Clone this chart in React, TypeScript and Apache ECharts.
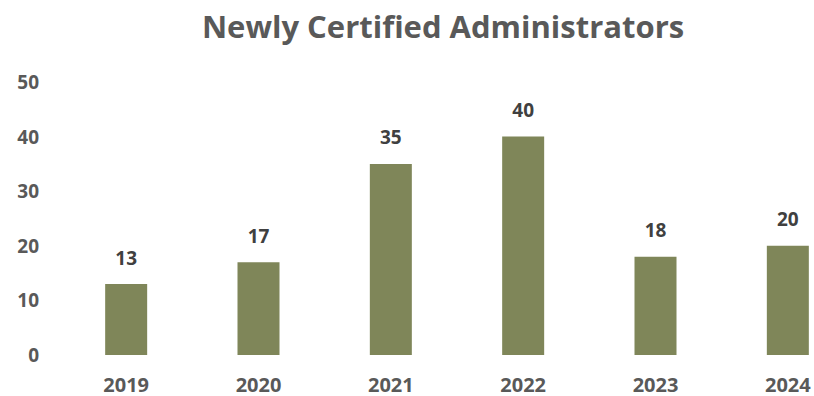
import React, { useEffect, useRef } from "react";
import * as echarts from "echarts";

const title = "Newly Certified Administrators";
const years = ["2019", "2020", "2021", "2022", "2023", "2024"];
const certified = [13, 17, 35, 40, 18, 20];
const yTicks = { min: 0, max: 50, interval: 10 };

export default function App() {
  const ref = useRef<HTMLDivElement>(null);
  useEffect(() => {
    if (!ref.current) return;
    const chart = echarts.init(ref.current, null, { renderer: "svg" });
    chart.setOption({
      animation: false,
      backgroundColor: "#ffffff",
      title: {
        text: title,
        left: 438,
        textAlign: "center",
        top: 5,
        textStyle: {
          fontFamily: "Open Sans",
          fontWeight: "bold",
          fontSize: 31,
          color: "#595959",
        },
      },
      grid: { left: 60, width: 794, top: 82, bottom: 41, containLabel: false },
      xAxis: {
        type: "category",
        data: years,
        axisLine: { show: false },
        axisTick: { show: false },
        axisLabel: {
          margin: 20,
          fontFamily: "Open Sans",
          fontWeight: "bold",
          fontSize: 20,
          lineHeight: 18,
          color: "#595959",
        },
      },
      yAxis: {
        type: "value",
        min: yTicks.min,
        max: yTicks.max,
        interval: yTicks.interval,
        splitLine: { show: false },
        axisLine: { show: false },
        axisTick: { show: false },
        axisLabel: {
          margin: 21,
          fontFamily: "Open Sans",
          fontWeight: "bold",
          fontSize: 19,
          color: "#595959",
        },
      },
      series: [
        {
          type: "bar",
          data: certified,
          barWidth: 42,
          itemStyle: { color: "#7f8659" },
          label: {
            show: true,
            position: "top",
            distance: 17,
            fontFamily: "Open Sans",
            fontWeight: "bold",
            fontSize: 19,
            color: "#404040",
          },
        },
      ],
    });
    return () => chart.dispose();
  }, []);
  return (
    <div
      style={{
        position: "absolute",
        left: 0,
        top: 0,
        width: 814,
        height: 396,
        overflow: "hidden",
      }}
    >
      <div ref={ref} style={{ width: 860, height: 396 }} />
    </div>
  );
}
